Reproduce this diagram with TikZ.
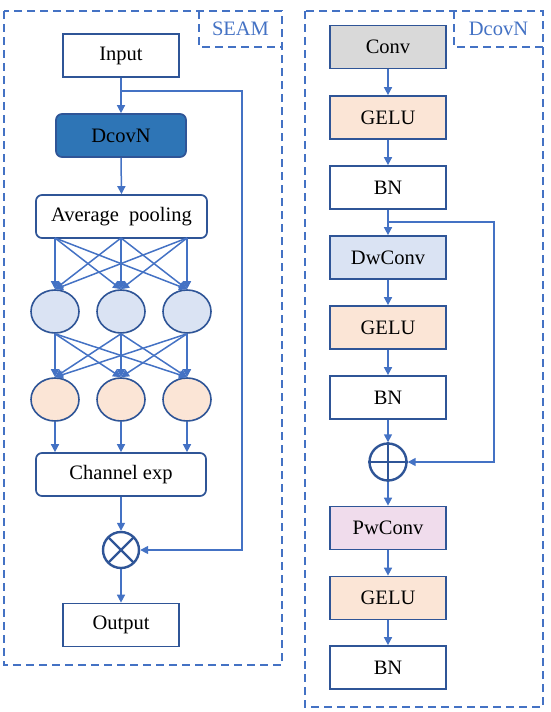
\documentclass[tikz,border=0pt]{standalone}
\usepackage{fontspec}
\setmainfont{Liberation Serif}
\usetikzlibrary{arrows.meta,shapes.geometric,calc}
\definecolor{lineblue}{HTML}{4472C4}
\definecolor{navy}{HTML}{2F5597}
\definecolor{darkfill}{HTML}{2E75B6}
\definecolor{grayfill}{HTML}{D9D9D9}
\definecolor{peach}{HTML}{FBE5D6}
\definecolor{lightblue}{HTML}{DAE3F3}
\definecolor{pinkfill}{HTML}{F0DCEC}
\begin{document}
\begin{tikzpicture}[x=1pt,y=-1pt,
  every node/.style={font=\fontsize{20.5}{24}\selectfont},
  box/.style={draw=navy,line width=1.7pt,minimum width=116pt,minimum height=43pt,inner sep=0pt,fill=white},
  rbox/.style={box,rounded corners=6pt},
  circ/.style={ellipse,draw=navy,line width=1.6pt,minimum width=48pt,minimum height=43pt,inner sep=0pt},
  arr/.style={draw=lineblue,line width=1.5pt,-{Triangle[length=8pt,width=8pt]}},
  ln/.style={draw=lineblue,line width=1.5pt},
  frame/.style={draw=lineblue,line width=2pt,dash pattern=on 8pt off 5pt},
  opnode/.style={circle,draw=navy,line width=2.4pt,minimum size=36pt,inner sep=0pt},
  lbl/.style={text=lineblue,inner sep=0pt}
]
\useasboundingbox (0,0) rectangle (550,712);
% frames
\draw[frame] (4,11) rectangle (282,665);
\draw[frame] (199,11) |- (282,47);
\node[lbl] (seam) at (240.5,29) {SEAM};
\draw[frame] (305,11) rectangle (543,707);
\draw[frame] (454,11) |- (543,47);
\node[lbl] (dcovlbl) at (498.5,29) {DcovN};

% left column
\node[box] (in) at (121,55.5) {Input};
\node[rbox,fill=darkfill,minimum width=130pt] (dc) at (121,135.5) {DcovN};
\node[rbox,minimum width=171pt] (ap) at (121.5,216.5) {Average\ \ pooling};
\node[circ,fill=lightblue] (b1) at (55,311.5) {};
\node[circ,fill=lightblue] (b2) at (121,311.5) {};
\node[circ,fill=lightblue] (b3) at (187,311.5) {};
\node[circ,fill=peach] (o1) at (55,399.5) {};
\node[circ,fill=peach] (o2) at (121,399.5) {};
\node[circ,fill=peach] (o3) at (187,399.5) {};
\node[rbox,minimum width=170pt] (ce) at (121,474.5) {Channel\ exp};
\node[opnode] (mul) at (121,550) {};
\draw[navy,line width=2.4pt] ($(mul.center)+(-12.7,-12.7)$) -- ($(mul.center)+(12.7,12.7)$);
\draw[navy,line width=2.4pt] ($(mul.center)+(-12.7,12.7)$) -- ($(mul.center)+(12.7,-12.7)$);
\node[box] (out) at (121,625) {Output};

\coordinate (sp) at (121,91);
\coordinate (spr) at (242,91);
\coordinate (p1) at (55,238);
\coordinate (p2) at (121,238);
\coordinate (p3) at (187,238);
\draw[ln] (in.south) -- (sp);
\draw[arr] (sp) -- (dc.north);
\draw[arr] (dc.south) -- (ap.north);
\draw[arr] (sp) -- (spr) |- (mul.east);
\foreach \s in {p1,p2,p3}{
  \foreach \t in {b1,b2,b3}{
    \draw[arr] (\s) -- (\t.north);
  }
}
\foreach \s in {b1,b2,b3}{
  \foreach \t in {o1,o2,o3}{
    \draw[arr] (\s.south) -- (\t.north);
  }
}
\foreach \s in {o1,o2,o3}{
  \draw[arr] (\s.south) -- (\s.south |- ce.north);
}
\draw[arr] (ce.south) -- (mul.north);
\draw[arr] (mul.south) -- (out.north);

% right column
\node[box,fill=grayfill] (conv) at (388,47) {Conv};
\node[box,fill=peach] (g1) at (388,117.5) {GELU};
\node[box] (bn1) at (388,187.5) {BN};
\node[box,fill=lightblue] (dw) at (388,257.5) {DwConv};
\node[box,fill=peach] (g2) at (388,327.5) {GELU};
\node[box] (bn2) at (388,397.5) {BN};
\node[opnode,minimum size=37pt] (add) at (388,462) {};
\draw[navy,line width=2.4pt] (add.north) -- (add.south);
\draw[navy,line width=2.4pt] (add.west) -- (add.east);
\node[box,fill=pinkfill] (pw) at (388,528) {PwConv};
\node[box,fill=peach] (g3) at (388,598) {GELU};
\node[box] (bn3) at (388,667.5) {BN};

\coordinate (rs) at (388,222);
\coordinate (rsr) at (494,222);
\draw[arr] (conv.south) -- (g1.north);
\draw[arr] (g1.south) -- (bn1.north);
\draw[ln] (bn1.south) -- (rs);
\draw[arr] (rs) -- (dw.north);
\draw[arr] (rs) -- (rsr) |- (add.east);
\draw[arr] (dw.south) -- (g2.north);
\draw[arr] (g2.south) -- (bn2.north);
\draw[arr] (bn2.south) -- (add.north);
\draw[arr] (add.south) -- (pw.north);
\draw[arr] (pw.south) -- (g3.north);
\draw[arr] (g3.south) -- (bn3.north);
\end{tikzpicture}
\end{document}
